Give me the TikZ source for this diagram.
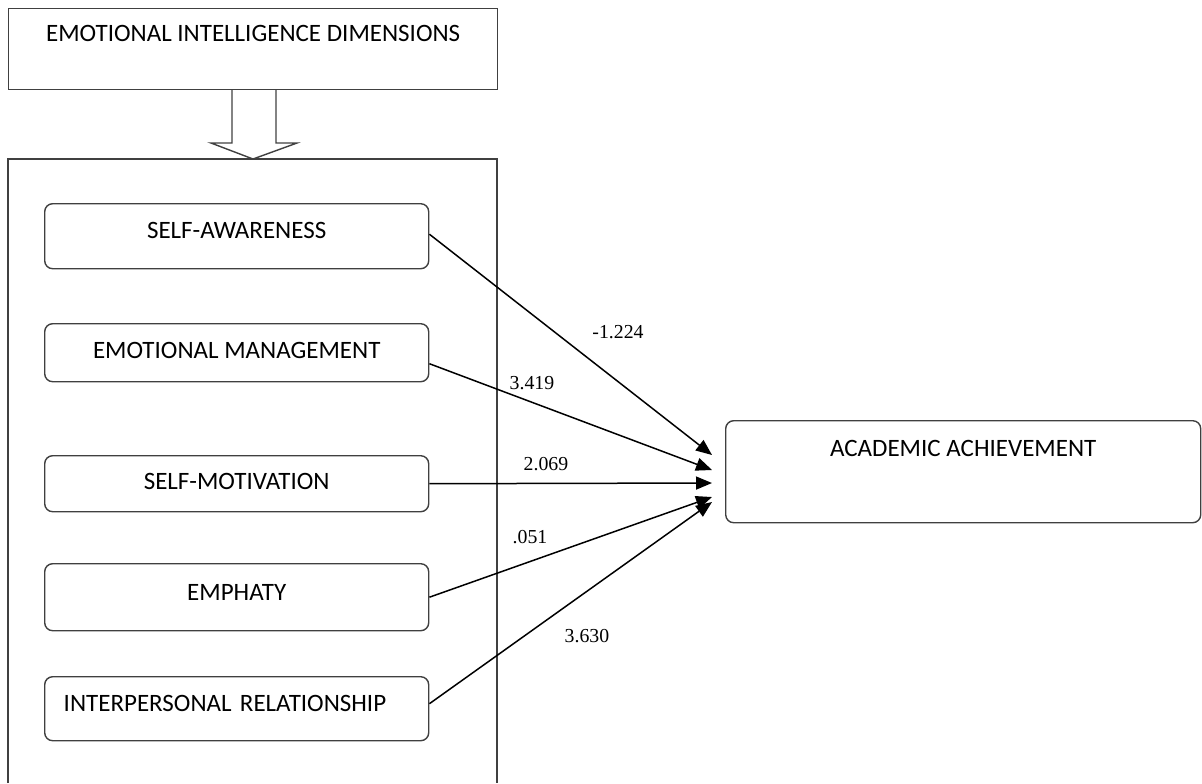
\documentclass[tikz,border=0pt]{standalone}
\usepackage{fontspec}
\setmainfont{Carlito}
\newfontfamily\coeffont{Liberation Serif}
\usetikzlibrary{arrows.meta,positioning}

\tikzset{
	outline/.style={draw=black!75, line width=0.7pt},
	dimbox/.style={outline, rounded corners=4pt, minimum width=192pt, inner ysep=0pt, anchor=north west, font=\fontsize{12.5}{14}\selectfont},
	coef/.style={font=\coeffont\fontsize{9.9}{11}\selectfont},
	effect/.style={draw=black, line width=0.75pt, -{Triangle[length=8pt,width=6.5pt]}}
}

\begin{document}
\begin{tikzpicture}[x=0.5pt,y=-0.5pt]
		\useasboundingbox (0,0) rectangle (1202,783);
		\node[outline, minimum width=244.5pt, inner ysep=0pt, text height=16.5pt, text depth=24pt, anchor=north west, font=\fontsize{12.5}{14}\selectfont] (dims) at (8,8) {EMOTIONAL INTELLIGENCE DIMENSIONS};
		\draw[outline] (232,89) -- (232,143) -- (211,143) -- (253,159) -- (297,143) -- (276,143) -- (276,89);
		\draw[outline] (8,783) -- (8,159) -- (497,159) -- (497,783);
		% dimensions
		\node[dimbox, text height=17.5pt, text depth=15pt] (sa) at (44,203) {SELF-AWARENESS};
		\node[dimbox, text height=17.5pt, text depth=11.5pt] (em) at (44,323) {EMOTIONAL MANAGEMENT};
		\node[dimbox, text height=17pt, text depth=11pt] (sm) at (44,455) {SELF-MOTIVATION};
		\node[dimbox, text height=18.5pt, text depth=15pt] (emp) at (44,563) {EMPHATY};
		\node[dimbox, text height=17.5pt, text depth=14.5pt, text width=173pt, inner xsep=9.5pt, align=left] (ir) at (44,676) {INTERPERSONAL RELATIONSHIP};
		\node[dimbox, minimum width=237.5pt, text height=18pt, text depth=33pt] (aa) at (725,420) {ACADEMIC ACHIEVEMENT};
		% arrow tips
		\coordinate (t1) at (712,455);
		\coordinate (t2) at (712,470);
		\coordinate (t3) at (712,483);
		\coordinate (t4) at (712,497);
		\coordinate (t5) at (712,502);
		\draw[effect] ([yshift=1pt]sa.east) -- (t1);
		\draw[effect] ([yshift=-5.5pt]em.east) -- (t2);
		\draw[effect] (sm.east) -- (t3);
		\draw[effect] (emp.east) -- (t4);
		\draw[effect] ([yshift=2.5pt]ir.east) -- (t5);
		% coefficients
		\node[coef] (c1) at (618,332) {-1.224};
		\node[coef] (c2) at (532,383) {3.419};
		\node[coef] (c3) at (546,464) {2.069};
		\node[coef] (c4) at (530,537) {.051};
		\node[coef] (c5) at (587,636) {3.630};
	\end{tikzpicture}
\end{document}
